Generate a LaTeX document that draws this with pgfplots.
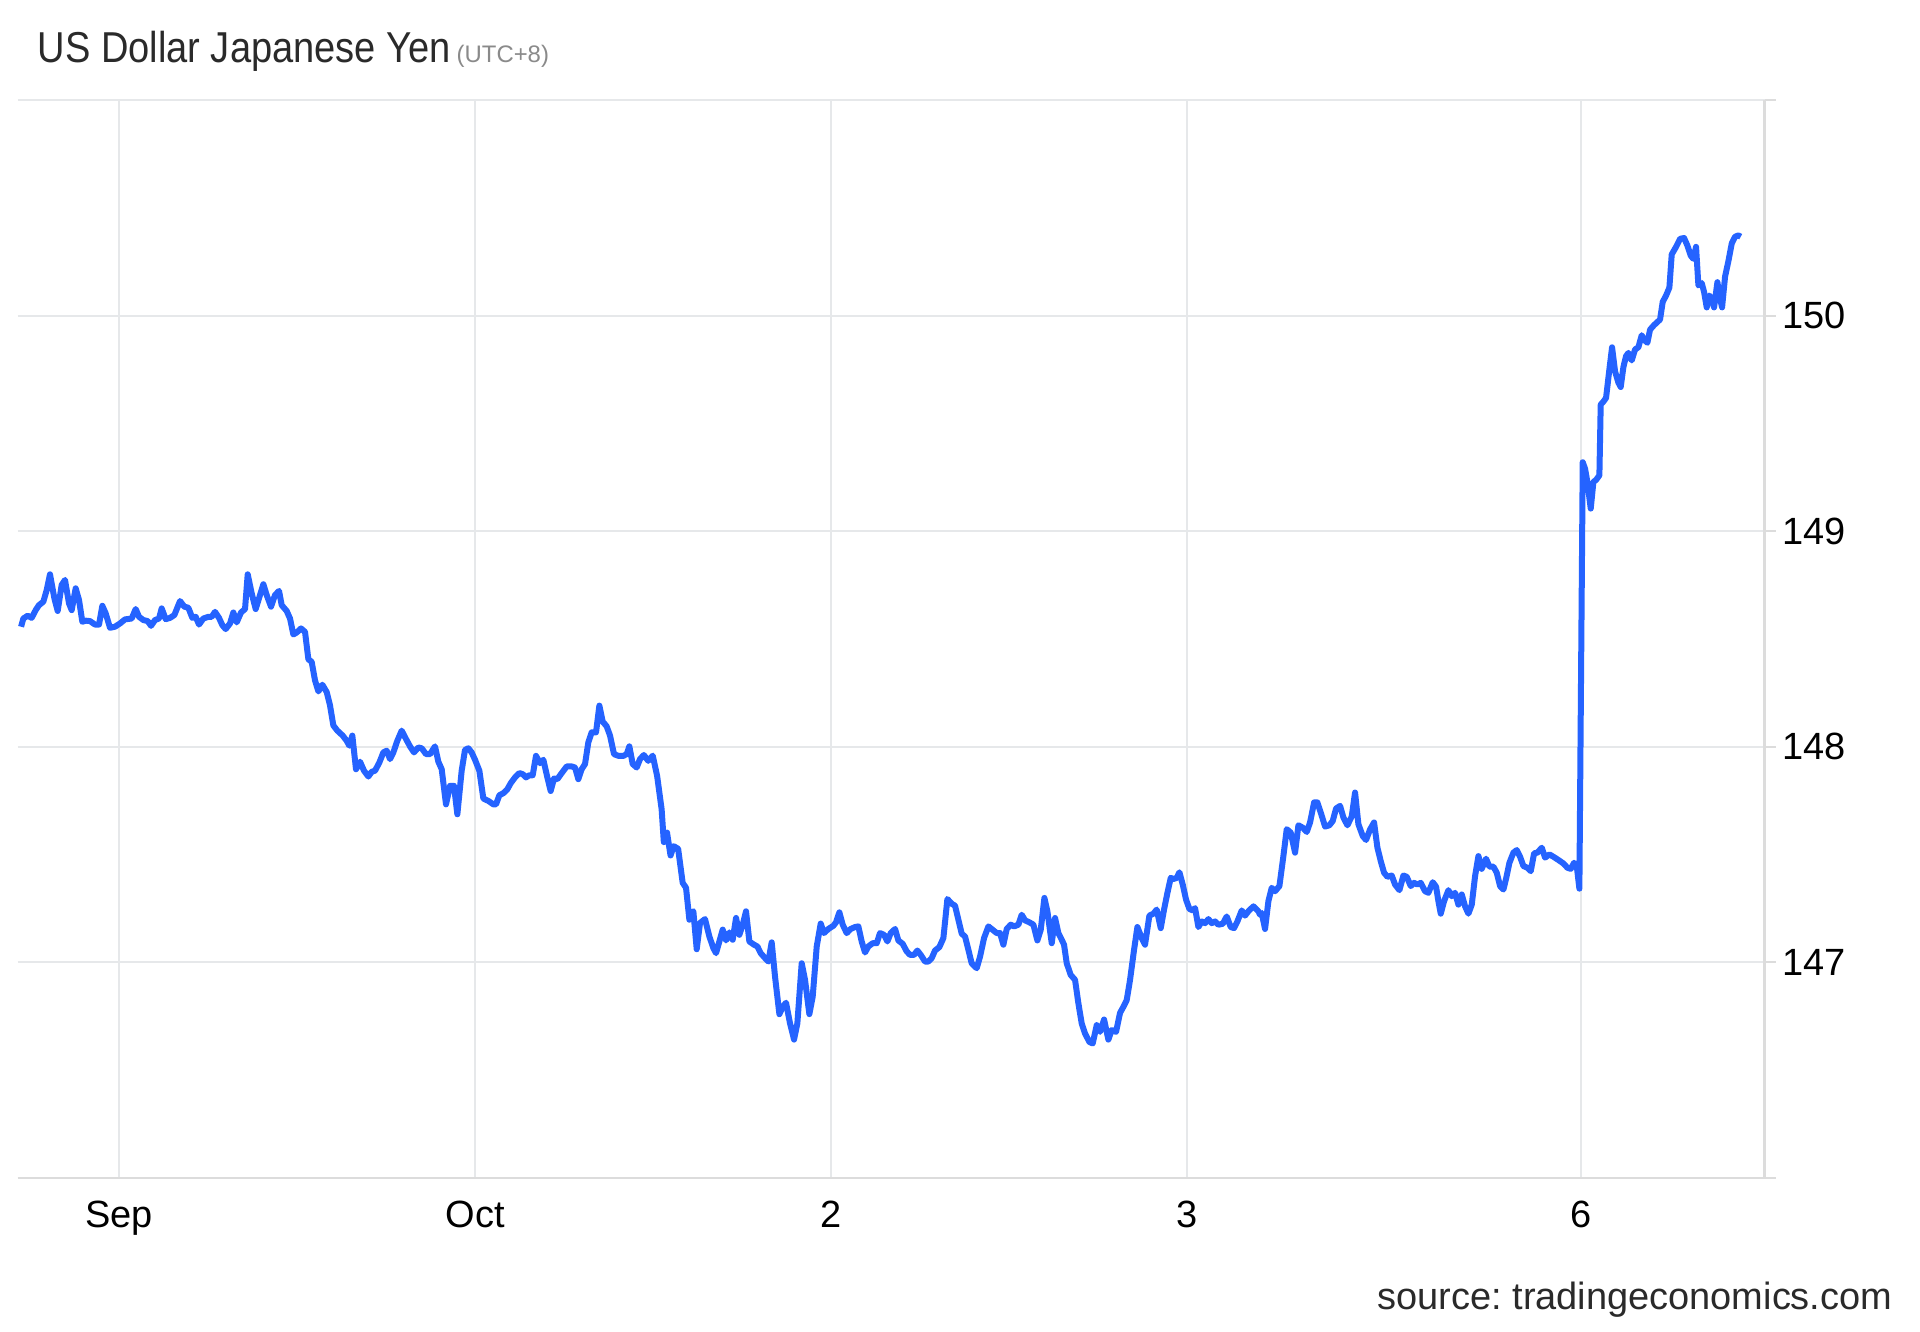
\documentclass[border=0pt]{standalone}
\usepackage{fontspec}
\setmainfont{Liberation Sans}
\usepackage{pgfplots}
\pgfplotsset{compat=1.18}
\definecolor{yenblue}{HTML}{2563FF}
\definecolor{gridgray}{HTML}{E6E8EA}
\definecolor{axisgray}{HTML}{DCDCDC}
\definecolor{titlegray}{HTML}{2A2A2A}
\definecolor{utcgray}{HTML}{8A8A8A}

\begin{document}
\frenchspacing
\begin{tikzpicture}
\fill[white] (0,0) rectangle (19.2,13.31);
\path[use as bounding box] (0,0) rectangle (19.2,13.31);

\begin{axis}[
  at={(0.18cm,1.53cm)}, anchor=south west,
  scale only axis, width=17.465cm, height=10.78cm,
  xmin=-28.37, xmax=462.2, ymin=146, ymax=151,
  axis x line*=bottom, axis y line*=right,
  axis line style={draw=axisgray, line width=0.025cm},
  xtick={0,100,200,300,410.6}, xticklabels={Sep,Oct,2,3,6},
  ytick={146,147,148,149,150,151}, yticklabels={{},147,148,149,150,{}},
  xtick style={draw=none},
  ytick align=outside, major tick length=0.11cm,
  ytick style={draw=axisgray, line width=0.02cm},
  grid=major, major grid style={draw=gridgray, line width=0.02cm},
  xticklabel style={font=\fontsize{10.8}{12}\selectfont, text=black, anchor=base, inner sep=0pt, yshift=-0.5cm},
  yticklabel style={font=\fontsize{10.8}{12}\selectfont, text=black, anchor=west, inner sep=0pt, xshift=0.06cm},
]
\addplot[yenblue, line width=0.06cm, line join=round] coordinates {
(-27.50,148.557)(-26.87,148.595)(-25.65,148.608)(-24.53,148.598)(-23.40,148.634)(-22.47,148.657)
(-21.25,148.673)(-20.31,148.727)(-19.38,148.800)(-18.16,148.689)(-17.22,148.630)(-16.10,148.751)
(-15.17,148.774)(-14.04,148.665)(-13.29,148.634)(-12.17,148.735)(-11.23,148.681)(-10.30,148.580)
(-9.36,148.585)(-8.14,148.583)(-6.74,148.567)(-5.61,148.567)(-4.68,148.654)(-3.74,148.619)
(-2.52,148.552)(-1.12,148.557)(0.28,148.572)(1.69,148.591)(3.56,148.595)(4.69,148.639)
(5.62,148.603)(6.84,148.588)(8.06,148.583)(9.00,148.561)(10.12,148.588)(11.24,148.595)
(11.99,148.642)(13.11,148.592)(14.33,148.598)(15.55,148.611)(17.14,148.676)(18.36,148.650)
(19.48,148.645)(20.60,148.598)(21.54,148.603)(22.48,148.567)(23.69,148.595)(25.10,148.603)
(26.03,148.603)(26.97,148.626)(28.09,148.598)(29.03,148.564)(29.97,148.546)(31.18,148.572)
(32.12,148.623)(33.06,148.577)(34.27,148.623)(35.40,148.639)(36.15,148.800)(37.27,148.712)
(38.39,148.639)(39.33,148.689)(40.55,148.754)(41.48,148.704)(42.70,148.650)(43.82,148.704)
(44.95,148.723)(45.70,148.657)(47.10,148.630)(48.04,148.595)(48.97,148.521)(49.91,148.530)
(51.13,148.549)(52.25,148.533)(53.19,148.406)(54.12,148.394)(55.06,148.308)(56.00,148.257)
(57.12,148.288)(58.34,148.254)(59.27,148.192)(60.21,148.099)
(61.33,148.075)(62.83,148.052)(63.95,148.028)(64.70,148.005)(65.54,148.052)(66.57,147.896)
(67.70,147.931)(68.82,147.889)(70.04,147.862)(70.97,147.884)(71.91,147.889)(73.13,147.927)
(74.25,147.974)(75.19,147.982)(76.12,147.943)(77.06,147.974)(78.18,148.028)(79.40,148.075)
(80.62,148.036)(81.74,148.002)(82.86,147.974)(84.08,147.997)(85.02,147.993)(86.24,147.966)
(87.36,147.966)(88.76,148.002)(89.70,147.931)(90.64,147.896)(91.85,147.733)(92.98,147.819)
(94.10,147.819)(95.04,147.687)(96.25,147.889)(97.19,147.986)(98.13,147.993)(99.06,147.974)
(100.00,147.940)(101.22,147.889)(102.34,147.760)(103.74,147.749)(105.15,147.733)(105.90,147.733)
(106.83,147.775)(107.96,147.785)(109.08,147.803)(110.02,147.831)(111.24,147.858)(112.45,147.878)
(113.39,147.873)(114.33,147.858)(115.26,147.868)(116.20,147.868)(117.13,147.958)(118.26,147.924)
(119.19,147.940)(120.32,147.858)(121.25,147.795)(122.19,147.853)(123.13,147.850)(124.34,147.878)
(125.75,147.909)(127.15,147.909)(128.09,147.904)(129.02,147.850)(129.96,147.896)(130.90,147.920)
(131.83,148.021)(132.77,148.067)(133.99,148.067)(134.93,148.191)(135.86,148.117)(136.98,148.095)
(137.92,148.052)(139.04,147.966)(140.26,147.958)(141.67,147.958)(142.60,147.966)(143.35,148.002)
(144.29,147.920)(145.41,147.904)(146.35,147.943)
(147.42,147.962)(148.65,147.935)(149.92,147.959)(151.15,147.865)(152.42,147.710)(153.03,147.558)
(153.93,147.602)(154.92,147.496)(155.81,147.539)(157.05,147.527)(158.33,147.369)(159.27,147.346)
(160.21,147.198)(160.86,147.232)(161.33,147.237)(162.27,147.061)(163.20,147.183)(164.61,147.201)
(165.83,147.120)(166.95,147.066)(167.70,147.043)(168.63,147.097)(169.57,147.152)(170.51,147.102)
(171.44,147.139)(172.38,147.105)(173.32,147.206)(174.25,147.128)(175.19,147.175)(176.12,147.237)
(177.06,147.097)(178.37,147.082)(179.31,147.074)(180.24,147.043)(181.46,147.020)(182.40,147.004)
(183.33,147.093)(184.27,146.934)(185.49,146.760)(186.42,146.794)(187.36,146.813)(188.48,146.717)
(189.61,146.642)(190.54,146.717)(191.76,146.996)(192.70,146.919)(193.91,146.760)(194.85,146.841)
(195.98,147.074)(197.10,147.180)(198.03,147.136)(199.25,147.155)(200.66,147.170)(201.41,147.186)
(202.34,147.232)(203.28,147.175)(204.40,147.136)(205.52,147.155)(206.74,147.164)(207.68,147.167)
(208.61,147.097)(209.55,147.046)(210.49,147.074)(211.70,147.089)(212.83,147.089)(213.76,147.136)
(214.89,147.128)(215.83,147.097)(216.76,147.136)(217.98,147.155)(218.91,147.102)(220.13,147.086)
(221.25,147.051)(222.19,147.035)(223.31,147.035)(224.25,147.055)(225.19,147.035)(226.40,147.004)
(227.34,147.004)(228.28,147.020)(229.21,147.055)(230.43,147.071)(231.56,147.113)
(232.68,147.294)(233.90,147.272)(234.83,147.263)(235.77,147.198)(236.71,147.133)(237.64,147.120)
(238.58,147.058)(239.51,146.996)(240.92,146.973)(241.86,147.027)(242.98,147.113)(244.20,147.167)
(245.41,147.151)(246.54,147.136)(247.47,147.136)(248.41,147.082)(249.35,147.155)(250.47,147.175)
(251.41,147.167)(252.62,147.175)(253.56,147.221)(254.50,147.195)(255.71,147.186)(256.84,147.175)
(257.96,147.102)(258.90,147.151)(259.93,147.299)(260.77,147.237)(261.99,147.089)(262.92,147.206)
(263.86,147.136)(264.80,147.105)(265.45,147.082)(266.20,146.996)(267.32,146.942)(268.54,146.919)
(269.48,146.810)(270.41,146.717)(271.35,146.670)(272.57,146.631)(273.50,146.624)(274.63,146.709)
(275.56,146.678)(276.69,146.735)(277.90,146.642)(278.84,146.686)(280.06,146.678)(281.18,146.766)
(282.12,146.794)(283.05,146.825)(283.99,146.919)(285.11,147.058)(286.05,147.164)(287.27,147.113)
(288.20,147.082)(289.42,147.217)(290.55,147.226)(291.48,147.245)(292.61,147.159)(293.54,147.245)
(294.48,147.322)(295.42,147.392)(296.16,147.387)(297.10,147.392)(297.85,147.418)(298.79,147.361)
(299.72,147.291)(300.66,147.248)(301.59,147.241)(302.25,147.252)(303.19,147.164)(304.12,147.190)
(305.06,147.182)(306.00,147.201)(306.93,147.182)(307.87,147.190)(308.80,147.175)(310.02,147.179)
(311.14,147.213)(312.27,147.164)(313.21,147.159)(314.14,147.190)(315.36,147.241)(316.29,147.217)
(317.23,147.237)(318.64,147.260)(320.04,147.237)(320.51,147.221)
(320.98,147.229)(321.91,147.155)(322.85,147.284)(323.79,147.346)(324.72,147.330)(325.94,147.354)
(327.06,147.493)(328.00,147.618)(329.12,147.602)(330.34,147.509)(331.28,147.636)(332.49,147.625)
(333.62,147.605)(334.55,147.649)(335.68,147.742)(336.61,147.742)(337.55,147.695)(338.77,147.630)
(339.98,147.636)(340.92,147.656)(341.86,147.714)(342.98,147.726)(343.92,147.672)(345.04,147.636)
(346.26,147.677)(347.19,147.788)(348.13,147.641)(349.35,147.586)(350.28,147.568)(351.41,147.617)
(352.53,147.649)(353.47,147.532)(354.40,147.470)(355.34,147.416)(356.28,147.397)(357.49,147.403)
(358.43,147.361)(359.65,147.335)(360.77,147.403)(361.71,147.397)(362.83,147.354)(363.77,147.369)
(364.70,147.361)(365.64,147.369)(366.86,147.330)(367.79,147.323)(369.01,147.372)(369.95,147.351)
(370.60,147.284)(371.26,147.226)(372.19,147.284)(373.41,147.335)(374.35,147.307)(375.28,147.323)
(376.22,147.268)(377.16,147.315)(378.09,147.260)(379.03,147.226)(379.97,147.268)(380.90,147.400)
(381.84,147.493)(382.77,147.434)(383.99,147.481)(384.93,147.444)(386.05,147.444)(386.99,147.416)
(387.92,147.354)(388.86,147.338)(389.61,147.388)(390.55,147.462)(391.67,147.509)(392.61,147.521)
(393.54,147.490)(394.48,147.447)(395.60,147.439)(396.54,147.423)(397.48,147.506)(398.41,147.509)
(399.63,147.532)(400.57,147.486)(401.78,147.501)(402.91,147.490)(404.31,147.475)(405.71,147.459)
(406.84,147.439)(407.77,147.434)(408.71,147.462)(409.46,147.447)(410.20,147.342)
(411.14,149.320)(411.79,149.290)(412.45,149.228)(413.39,149.105)(414.13,149.228)(414.88,149.238)
(415.82,149.259)(416.19,149.587)(416.94,149.601)(417.69,149.618)(418.63,149.751)(419.38,149.853)
(420.22,149.741)(421.16,149.689)(421.81,149.669)(422.56,149.761)(423.31,149.812)(423.97,149.827)
(424.90,149.792)(425.84,149.843)(426.77,149.853)(427.71,149.909)(428.37,149.888)(429.30,149.874)
(430.05,149.935)(431.18,149.956)(432.11,149.970)(432.86,149.982)(433.61,150.064)(434.55,150.093)
(435.48,150.130)(436.14,150.284)(437.36,150.319)(438.48,150.356)(439.60,150.360)(440.54,150.325)
(441.48,150.278)(442.22,150.263)(442.97,150.319)(443.63,150.140)(444.56,150.151)(445.22,150.110)
(445.97,150.038)(446.72,150.093)(447.37,150.079)(448.03,150.038)(448.97,150.155)(449.71,150.079)
(450.28,150.038)(451.12,150.181)(452.06,150.253)(453.00,150.335)(453.93,150.366)(454.87,150.372)
(455.52,150.366)
};
\end{axis}

\node[anchor=base west, inner sep=0pt, text=titlegray] at (0.37,12.68)
  {\scalebox{0.88}[1]{\fontsize{12.3}{14}\selectfont US Dollar Japanese Yen}};
\node[anchor=base west, inner sep=0pt, text=utcgray] at (4.56,12.68)
  {\fontsize{6.8}{8}\selectfont (UTC+8)};
\node[anchor=base east, inner sep=0pt, text=titlegray] at (18.93,0.21)
  {\fontsize{10.8}{12}\selectfont source: tradingeconomics.com};
\end{tikzpicture}
\end{document}
